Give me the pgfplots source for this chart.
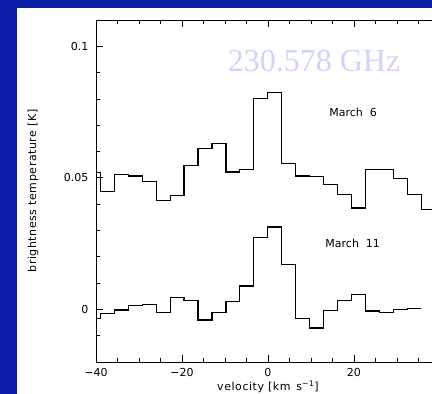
\documentclass[border=0pt]{standalone}
\usepackage{fontspec}
\setmainfont{DejaVu Sans}
\newfontfamily\seriffont{Liberation Serif}
\newfontfamily\labelfont[LetterSpace=5]{DejaVu Sans}
\usepackage{pgfplots}
\pgfplotsset{compat=1.18}
\definecolor{bgblue}{RGB}{10,30,168}
\definecolor{lav}{RGB}{206,212,252}
\begin{document}
\begin{tikzpicture}
\useasboundingbox (0,0) rectangle (432pt,394pt);
\clip (0,0) rectangle (432pt,394pt);
\fill[bgblue] (0,0) rectangle (432pt,394pt);
\fill[white] (17pt,0) rectangle (432pt,386pt);
\begin{axis}[
  at={(96pt,32pt)}, anchor=south west,
  scale only axis, width=344pt, height=342pt,
  xmin=-40, xmax=40, ymin=-0.02, ymax=0.11,
  axis line style={line width=0.8pt},
  xtick={-40,-20,0,20,40},
  xticklabels={−40,−20,0,20,{}},
  minor x tick num=3,
  ytick={0,0.05,0.1},
  yticklabels={0,0.05,0.1},
  minor ytick={-0.01,0.01,0.02,0.03,0.04,0.06,0.07,0.08,0.09},
  tick align=inside,
  xtick pos=both, ytick pos=both,
  major tick length=7pt, minor tick length=4pt,
  tick style={line width=0.8pt, black},
  tick label style={font=\fontsize{11}{13}\selectfont},
  xticklabel style={yshift=-3pt},
  yticklabel style={xshift=-4pt},
  xlabel={velocity [km\ \,s\textsuperscript{−1}]},
  ylabel={brightness temperature [K]},
  every axis x label/.style={at={(axis description cs:0.5,-0.073)}, anchor=center, font=\labelfont\fontsize{11}{13}\selectfont},
  every axis y label/.style={at={(axis description cs:-0.183,0.5)}, rotate=90, anchor=center, font=\labelfont\fontsize{11}{13}\selectfont},
]
\addplot[const plot mark left, black, line width=1.2pt, no marks] coordinates {
(-42.23,0.0519) (-38.99,0.0447) (-35.74,0.0514) (-32.50,0.0507) (-29.25,0.0486)
(-26.01,0.0414) (-22.76,0.0433) (-19.52,0.0547) (-16.27,0.0611) (-13.03,0.0630)
(-9.78,0.0522) (-6.54,0.0532) (-3.29,0.0801) (-0.05,0.0824) (3.20,0.0556)
(6.44,0.0507) (9.69,0.0505) (12.93,0.0476) (16.18,0.0436) (19.42,0.0385)
(22.67,0.0533) (25.91,0.0531) (29.16,0.0497) (32.40,0.0437) (35.65,0.0379)
(42.14,0.0379)
};
\addplot[const plot mark left, black, line width=1.2pt, no marks] coordinates {
(-42.23,-0.0034) (-38.99,-0.0015) (-35.74,-0.0002) (-32.50,0.0015) (-29.25,0.0019)
(-26.01,-0.0012) (-22.76,0.0044) (-19.52,0.0034) (-16.27,-0.0040) (-13.03,-0.0011)
(-9.78,0.0031) (-6.54,0.0089) (-3.29,0.0273) (-0.05,0.0313) (3.20,0.0170)
(6.44,-0.0034) (9.69,-0.0071) (12.93,-0.0005) (16.18,0.0033) (19.42,0.0057)
(22.67,-0.0006) (25.91,-0.0012) (29.16,-0.0001) (32.40,0.0003) (35.65,0.0003)
};
\node[font=\fontsize{11}{13}\selectfont] at (axis cs:19.8,0.0748) {March\ \ 6};
\node[font=\fontsize{11}{13}\selectfont] at (axis cs:19.7,0.0249) {March\ \ 11};
\node[font=\seriffont\fontsize{32}{35}\selectfont, text=lav] at (axis cs:10.7,0.0944) {230.578 GHz};
\end{axis}
\end{tikzpicture}
\end{document}
